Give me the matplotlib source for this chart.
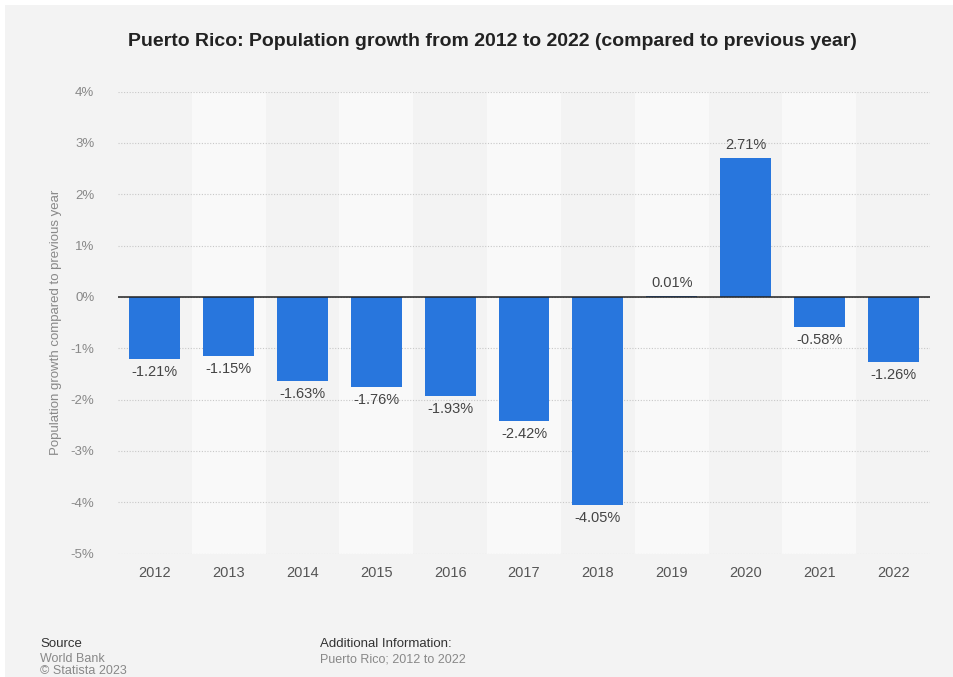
import numpy as np
import matplotlib.pyplot as plt

plt.rcParams["font.family"] = ["Liberation Sans", "DejaVu Sans"]

years = ["2012", "2013", "2014", "2015", "2016", "2017", "2018", "2019", "2020", "2021", "2022"]
growth = [-1.21, -1.15, -1.63, -1.76, -1.93, -2.42, -4.05, 0.01, 2.71, -0.58, -1.26]
yticks = [-5, -4, -3, -2, -1, 0, 1, 2, 3, 4]

bg = "#f3f3f3"
fig = plt.figure(figsize=(9.54, 6.77), dpi=100, facecolor=bg)
# thin white strip on top and left like the screenshot
fig.patches.append(plt.Rectangle((0, 1 - 5 / 677), 1, 5 / 677, transform=fig.transFigure,
                                 facecolor="white", edgecolor="none", zorder=-10))
fig.patches.append(plt.Rectangle((0, 0), 5 / 954, 1, transform=fig.transFigure,
                                 facecolor="white", edgecolor="none", zorder=-10))

ax = fig.add_axes([118 / 954, 1 - 553.5 / 677, 812 / 954, 462 / 677])
ax.set_facecolor(bg)
x = np.arange(len(years))

# alternating column bands
for i in x:
    if i % 2 == 1:
        ax.axvspan(i - 0.5, i + 0.5, color="#f9f9f9", zorder=0, lw=0)

for t in yticks:
    ax.axhline(t, color="#c8c8c8", lw=0.8, ls=(0, (1, 1.5)), zorder=1)

ax.bar(x, growth, width=0.69, color="#2876dd", zorder=2)
ax.axhline(0, color="#222222", lw=1.1, zorder=3)

for xi, v in zip(x, growth):
    if v >= 0:
        ax.text(xi, v + 0.12, f"{v:.2f}%", ha="center", va="bottom", fontsize=10.5, color="#444444")
    else:
        ax.text(xi, v - 0.12, f"{v:.2f}%", ha="center", va="top", fontsize=10.5, color="#444444")

ax.set_xlim(-0.5, len(years) - 0.5)
ax.set_ylim(-5, 4)
ax.set_xticks(x)
ax.set_xticklabels(years, fontsize=10.5, color="#555555")
ax.set_yticks(yticks)
ax.set_yticklabels([f"{t}%" for t in yticks], fontsize=9.5, color="#888888")
ax.tick_params(axis="both", length=0)
ax.tick_params(axis="y", pad=17)
ax.tick_params(axis="x", pad=9)
for s in ax.spines.values():
    s.set_visible(False)
ax.set_ylabel("Population growth compared to previous year", fontsize=9.5, color="#888888", labelpad=6)

fig.text(492 / 954, 1 - 41 / 677, "Puerto Rico: Population growth from 2012 to 2022 (compared to previous year)",
         ha="center", va="center", fontsize=14, fontweight="bold", color="#222222")

fig.text(40 / 954, 1 - 644 / 677, "Source", fontsize=9.5, color="#333333", va="center")
fig.text(40 / 954, 1 - 659 / 677, "World Bank", fontsize=9, color="#888888", va="center")
fig.text(40 / 954, 1 - 671 / 677, "© Statista 2023", fontsize=9, color="#888888", va="center")
fig.text(320 / 954, 1 - 644 / 677, "Additional Information:", fontsize=9.5, color="#333333", va="center")
fig.text(320 / 954, 1 - 659 / 677, "Puerto Rico; 2012 to 2022", fontsize=9, color="#888888", va="center")

fig.savefig("out.png", dpi=100, facecolor=bg)
